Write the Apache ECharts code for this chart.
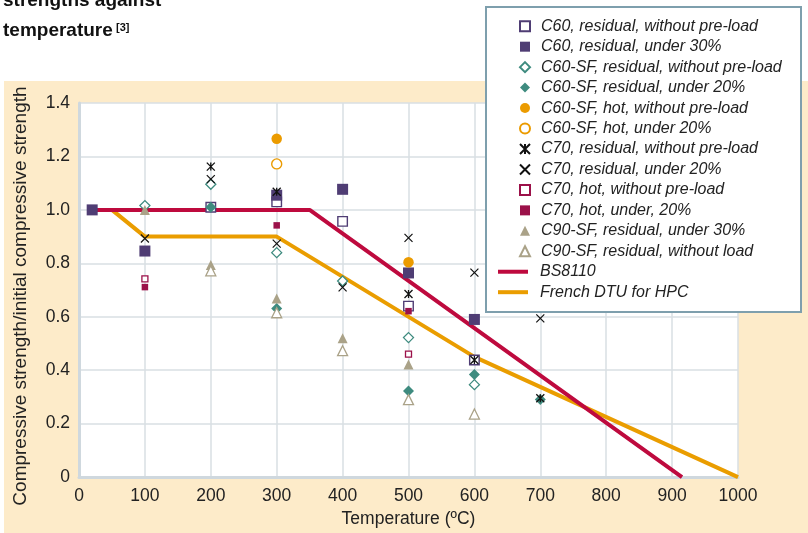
<!DOCTYPE html>
<html>
<head>
<meta charset="utf-8">
<script src="https://cdn.jsdelivr.net/npm/echarts@6/dist/echarts.min.js"></script>
<style>
html, body { margin: 0; padding: 0; background: #fff; }
#main { width: 808px; height: 533px; }
</style>
</head>
<body>
<div id="main"></div>
<script>
// data: [temperature, relative strength]
var c60ResNoLoad = [[200, 1.01], [300, 1.03], [400, 0.957], [500, 0.64], [600, 0.438]];
var c60Res30 = [[20, 1.0], [100, 0.846], [300, 1.055], [400, 1.077], [500, 0.764], [600, 0.59]];
var c60sfResNoLoad = [[100, 1.016], [200, 1.096], [300, 0.84], [400, 0.734], [500, 0.522], [600, 0.346]];
var c60sfRes20 = [[200, 1.01], [300, 0.631], [500, 0.322], [600, 0.384], [700, 0.29]];
var c60sfHotNoLoad = [[300, 1.266], [500, 0.804]];
var c60sfHot20 = [[300, 1.172]];
var c70ResNoLoad = [[200, 1.162], [300, 1.068], [500, 0.685], [600, 0.438], [700, 0.295]];
var c70Res20 = [[100, 0.893], [200, 1.115], [300, 0.874], [400, 0.71], [500, 0.895], [600, 0.765], [700, 0.594]];
var c70HotNoLoad = [[100, 0.742], [500, 0.46]];
var c70Hot20 = [[100, 0.711], [300, 0.942], [500, 0.621]];
var c90sfRes30 = [[100, 1.0], [200, 0.794], [300, 0.668], [400, 0.52], [500, 0.421]];
var c90sfResNoLoad = [[200, 0.772], [300, 0.615], [400, 0.473], [500, 0.29], [600, 0.236]];
var bs8110 = [[20, 1.0], [350, 1.0], [915, 0]];
var frenchDtu = [[50, 1.0], [100, 0.9], [300, 0.9], [600, 0.45], [1000, 0]];

var purple = '#4f3d74', teal = '#3e8b7f', orange = '#eb9b00', maroon = '#9b1149', tan = '#aaa288';
var starX = 'path://M0,0L10,10M10,0L0,10M5,0L5,10';
var plainX = 'path://M0,0L10,10M10,0L0,10';

function pts(name, data, symbol, size, fill, border, bw) {
    return {
        name: name,
        type: 'scatter',
        data: data,
        symbol: symbol,
        symbolSize: size,
        symbolKeepAspect: true,
        z: 5,
        itemStyle: { color: fill, borderColor: border || fill, borderWidth: bw || 0, opacity: 1 }
    };
}

var scatterSeries = [
    pts('C60, residual, without pre-load', c60ResNoLoad, 'rect', 9.5, '#fff', purple, 1.4),
    pts('C60, residual, under 30%', c60Res30, 'rect', 11, purple),
    pts('C60-SF, residual, without pre-load', c60sfResNoLoad, 'diamond', 10, '#fff', teal, 1.3),
    pts('C60-SF, residual, under 20%', c60sfRes20, 'diamond', 11, teal),
    pts('C60-SF, hot, without pre-load', c60sfHotNoLoad, 'circle', 10.5, orange),
    pts('C60-SF, hot, under 20%', c60sfHot20, 'circle', 10, '#fff', orange, 1.4),
    pts('C70, residual, without pre-load', c70ResNoLoad, starX, 8, 'rgba(0,0,0,0)', '#111', 1.3),
    pts('C70, residual, under 20%', c70Res20, plainX, 8, 'rgba(0,0,0,0)', '#111', 1.2),
    pts('C70, hot, without pre-load', c70HotNoLoad, 'rect', 6, '#fff', maroon, 1.3),
    pts('C70, hot, under, 20%', c70Hot20, 'rect', 6.5, maroon),
    pts('C90-SF, residual, under 30%', c90sfRes30, 'triangle', 10, tan),
    pts('C90-SF, residual, without load', c90sfResNoLoad, 'triangle', 10, '#fff', tan, 1.3)
];

var lineSeries = [
    { name: 'BS8110', type: 'line', data: bs8110, symbol: 'none', z: 3,
      lineStyle: { color: '#be0a3e', width: 4 }, itemStyle: { color: '#be0a3e' } },
    { name: 'French DTU for HPC', type: 'line', data: frenchDtu, symbol: 'none', z: 2,
      lineStyle: { color: '#ea9d00', width: 4 }, itemStyle: { color: '#ea9d00' } }
];

var font = '"Liberation Sans", Arial, Helvetica, sans-serif';
var chart = echarts.init(document.getElementById('main'));

var option = {
    animation: false,
    backgroundColor: '#fdebc9',
    textStyle: { fontFamily: font },
    graphic: [
        { type: 'rect', left: 0, top: 0, z: 0, shape: { width: 808, height: 81 }, style: { fill: '#fff' } },
        { type: 'rect', left: 0, top: 0, z: 0, shape: { width: 4, height: 533 }, style: { fill: '#fff' } },
        { type: 'text', left: 3, top: -9, z: 1,
          style: { text: 'strengths against', font: 'bold 19px ' + font, fill: '#111' } },
        { type: 'text', left: 3, top: 21, z: 1,
          style: { text: 'temperature', font: 'bold 19px ' + font, fill: '#111' } },
        { type: 'text', left: 116, top: 22, z: 1,
          style: { text: '[3]', font: 'bold 11px ' + font, fill: '#111' } },
        { type: 'rect', left: 485, top: 6, z: 10,
          shape: { width: 315, height: 305 },
          style: { fill: '#fff', stroke: '#7e9fad', lineWidth: 2 } }
    ],
    grid: { left: 79, right: 70, top: 103, bottom: 52, show: true, backgroundColor: '#fff', borderWidth: 0 },
    legend: [
        {
            data: scatterSeries.map(function (s) { return s.name; }),
            orient: 'vertical', left: 519, top: 16, z: 20, padding: 0,
            itemWidth: 10, itemHeight: 10, itemGap: 0,
            textStyle: { fontSize: 16, fontStyle: 'italic', color: '#222', lineHeight: 20.46, padding: [0, 0, 0, 6] }
        },
        {
            data: lineSeries.map(function (s) { return s.name; }),
            orient: 'vertical', left: 498, top: 261.5, z: 20, padding: 0,
            icon: 'rect', itemWidth: 30, itemHeight: 4, itemGap: 0,
            textStyle: { fontSize: 16, fontStyle: 'italic', color: '#222', lineHeight: 20.46, padding: [0, 0, 0, 7] }
        }
    ],
    xAxis: {
        type: 'value', min: 0, max: 1000, interval: 100,
        name: 'Temperature (ºC)', nameLocation: 'middle', nameGap: 30,
        nameTextStyle: { fontSize: 17.5, color: '#222' },
        axisLine: { show: true, lineStyle: { color: '#cfd8de', width: 3 } },
        axisTick: { show: false },
        axisLabel: { fontSize: 17.5, color: '#222', margin: 10, formatter: function (v) { return String(v); } },
        splitLine: { lineStyle: { color: '#d8dfe3', width: 1.5 } }
    },
    yAxis: {
        type: 'value', min: 0, max: 1.4, interval: 0.2,
        name: 'Compressive strength/initial compressive strength', nameLocation: 'middle', nameGap: 49,
        nameTextStyle: { fontSize: 19, color: '#222', padding: [0, 12, 0, 0] },
        axisLine: { show: true, lineStyle: { color: '#cfd8de', width: 3 } },
        axisTick: { show: false },
        axisLabel: {
            fontSize: 17.5, color: '#222', margin: 9,
            formatter: function (v) { return v === 0 ? '0' : v.toFixed(1); }
        },
        splitLine: { lineStyle: { color: '#d8dfe3', width: 1.5 } }
    },
    series: lineSeries.concat(scatterSeries)
};

chart.setOption(option);
</script>
</body>
</html>
